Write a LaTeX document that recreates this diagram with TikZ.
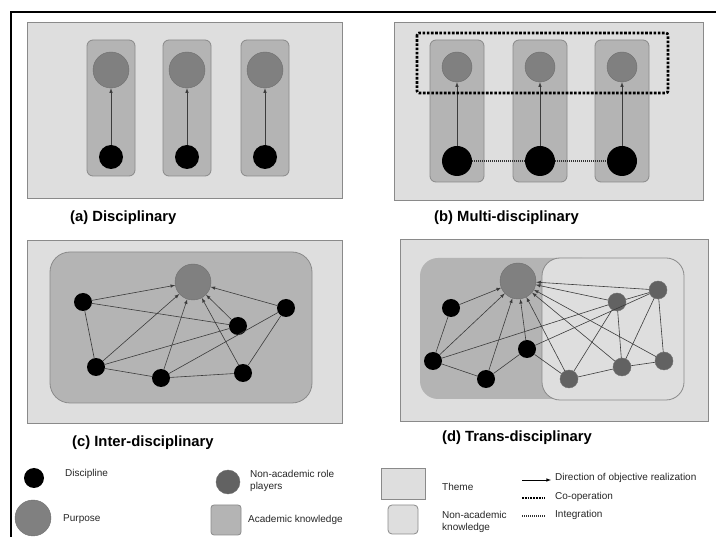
\documentclass[tikz,border=0pt]{standalone}
\usepackage{fontspec}
\setmainfont{Liberation Sans}
\usetikzlibrary{arrows}
\definecolor{themegray}{HTML}{DEDEDE}
\definecolor{acadgray}{HTML}{B4B4B4}
\definecolor{purpgray}{HTML}{808080}
\definecolor{actorgray}{HTML}{626262}
\definecolor{linegray}{HTML}{3C3C3C}
\definecolor{rimgray}{HTML}{8A8A8A}
\begin{document}
\begin{tikzpicture}[x=1pt,y=-1pt,
  theme/.style={draw=rimgray,fill=themegray,line width=0.8pt},
  acad/.style={draw=rimgray,fill=acadgray,line width=0.8pt},
  nonacad/.style={draw=rimgray,fill=themegray,line width=0.8pt},
  disc/.style={circle,fill=black,inner sep=0pt,minimum size=18pt},
  purp/.style={circle,draw=rimgray!80!black,fill=purpgray,inner sep=0pt,minimum size=36pt},
  actor/.style={circle,draw=rimgray!80!black,fill=actorgray,inner sep=0pt,minimum size=18pt},
  dir/.style={-latex,draw=linegray,line width=0.6pt},
  link/.style={draw=linegray,line width=0.6pt},
  coop/.style={draw=black,line width=2.6pt,dash pattern=on 2.6pt off 1.6pt},
  integ/.style={draw=black!80,line width=1.1pt,dash pattern=on 1.2pt off 0.8pt},
  caption/.style={anchor=west,inner sep=0pt,font=\fontsize{14.8}{16}\selectfont\bfseries},
  lgd/.style={anchor=west,inner sep=0pt,align=left,text=black!85,font=\fontsize{10}{12}\selectfont}]
\useasboundingbox (0,0) rectangle (716,537);
\draw[line width=2pt] (716,12) -- (11,12) -- (11,537);
% (a)
\draw[theme] (27,22) rectangle (342,198);
\foreach \x [count=\i] in {111,187,265}{
  \draw[acad,rounded corners=6] (\x-24,40) rectangle (\x+24,176);
  \node[purp] (ap\i) at (\x,70) {};
  \node[disc,minimum size=24pt] (ad\i) at (\x,157) {};
  \draw[dir] (ad\i) -- (ap\i);
}
\node[caption] (capa) at (70,218) {(a) Disciplinary};
% (b)
\draw[theme] (394,22) rectangle (703,200);
\foreach \x [count=\i] in {457,540,622}{
  \draw[acad,rounded corners=6] (\x-27,40) rectangle (\x+27,182);
  \node[purp,minimum size=30pt] (bp\i) at (\x,67) {};
  \node[disc,minimum size=30pt] (bd\i) at (\x,161) {};
  \draw[dir] (bd\i) -- (bp\i);
}
\draw[integ] (bd1) -- (bd2) -- (bd3);
\draw[coop,rounded corners=2] (417,33) rectangle (668,93);
\node[caption] (capb) at (434,218) {(b) Multi-disciplinary};
% (c)
\draw[theme] (27,240) rectangle (342,423);
\draw[acad,rounded corners=20] (50,252) rectangle (312,403);
\node[purp] (cp) at (193,282) {};
\node[disc] (c1) at (83,302) {};
\node[disc] (c2) at (286,308) {};
\node[disc] (c3) at (238,326) {};
\node[disc] (c4) at (96,367) {};
\node[disc] (c5) at (161,378) {};
\node[disc] (c6) at (243,373) {};
\foreach \n in {1,...,6} \draw[dir] (c\n) -- (cp);
\draw[link] (c1) -- (c3) (c1) -- (c4) (c4) -- (c3) (c4) -- (c5) (c5) -- (c6)
  (c5) -- (c2) (c6) -- (c2);
\node[caption] (capc) at (72,443) {(c) Inter-disciplinary};
% (d)
\draw[theme] (400,239) rectangle (708,421);
\fill[acadgray,rounded corners=18] (420,258) rectangle (600,399);
\draw[nonacad,rounded corners=18] (542,258) rectangle (684,400);
\node[purp] (dp) at (518,281) {};
\node[disc] (d1) at (451,308) {};
\node[disc] (d2) at (433,361) {};
\node[disc] (d3) at (486,379) {};
\node[disc] (d4) at (527,349) {};
\node[actor] (g1) at (617,302) {};
\node[actor] (g2) at (658,290) {};
\node[actor] (g3) at (569,379) {};
\node[actor] (g4) at (622,367) {};
\node[actor] (g5) at (664,361) {};
\foreach \n in {d1,d2,d3,d4,g1,g2,g3,g4,g5} \draw[dir] (\n) -- (dp);
\draw[link] (d1) -- (d2) (d2) -- (d3) (d3) -- (d4) (d2) -- (g1) (d4) -- (g2)
  (d4) -- (g3) (g3) -- (g1) (g3) -- (g4) (g1) -- (g2) (g1) -- (g4)
  (g2) -- (g4) (g2) -- (g5) (g4) -- (g5);
\node[caption] (capd) at (442,438) {(d) Trans-disciplinary};
% legend
\node[disc,minimum size=20pt] (ldisc) at (34,478) {};
\node[lgd] (tdisc) at (65,474) {Discipline};
\node[purp,minimum size=36pt] (lpurp) at (33,518) {};
\node[lgd] (tpurp) at (63,519) {Purpose};
\node[actor,minimum size=24pt] (lactor) at (228,482) {};
\node[lgd] (tactor) at (250,481) {Non-academic role\\players};
\draw[acad,rounded corners=3] (211,505) rectangle (241,535);
\node[lgd] (tacad) at (248,520) {Academic knowledge};
\draw[theme] (381,468) rectangle (425,499);
\node[lgd] (ttheme) at (442,487) {Theme};
\draw[nonacad,rounded corners=4] (388,505) rectangle (418,534);
\node[lgd] (tnon) at (442,522) {Non-academic\\knowledge};
\coordinate (r1) at (522,480); \coordinate (r2) at (551,480);
\draw[dir,draw=black] (r1) -- (r2);
\node[lgd] (tdir) at (555,478) {Direction of objective realization};
\coordinate (o1) at (522,498); \coordinate (o2) at (545,498);
\draw[coop,line width=1.8pt,dash pattern=on 1.8pt off 1pt] (o1) -- (o2);
\node[lgd] (tcoop) at (555,497) {Co-operation};
\coordinate (i1) at (522,516); \coordinate (i2) at (545,516);
\draw[integ] (i1) -- (i2);
\node[lgd] (tint) at (555,515) {Integration};
\end{tikzpicture}
\end{document}
